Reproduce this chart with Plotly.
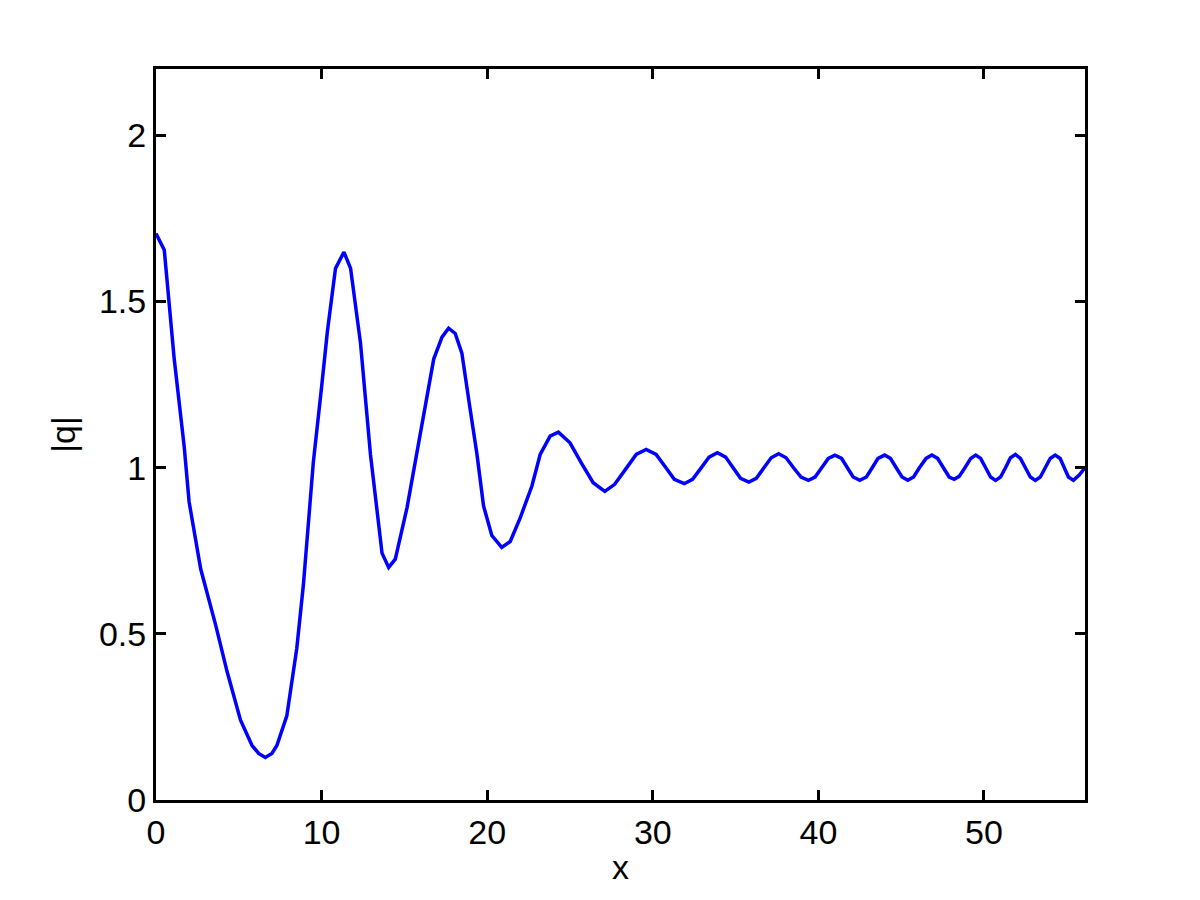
import plotly.graph_objects as go

x_vals = [0.0, 0.5, 1.1, 1.7, 2.0, 2.7, 3.6, 4.3, 5.1, 5.8, 6.2, 6.6, 7.0, 7.3, 7.9,
          8.5, 8.9, 9.5, 10.0, 10.35, 10.84, 11.35, 11.75, 12.35, 12.95, 13.65, 14.05,
          14.45, 15.16, 15.77, 16.37, 16.77, 17.27, 17.67, 18.07, 18.47, 18.98, 19.38,
          19.78, 20.28, 20.88, 21.39, 22.0, 22.7, 23.2, 23.8, 24.3, 25.0, 25.7, 26.4,
          27.1, 27.7, 28.35, 29.0, 29.6, 30.2, 30.75, 31.3, 31.9, 32.4, 32.9, 33.4,
          33.9, 34.4, 34.85, 35.3, 35.8, 36.25, 36.7, 37.15, 37.6, 38.05, 38.5, 38.95,
          39.4, 39.8, 40.2, 40.6, 41.0, 41.4, 41.75, 42.1, 42.5, 42.9, 43.25, 43.6,
          44.0, 44.35, 44.7, 45.05, 45.4, 45.75, 46.1, 46.5, 46.85, 47.2, 47.55, 47.9,
          48.2, 48.5, 48.85, 49.2, 49.5, 49.8, 50.1, 50.4, 50.7, 51.0, 51.3, 51.6,
          51.9, 52.2, 52.5, 52.8, 53.1, 53.4, 53.7, 54.0, 54.3, 54.6, 54.85, 55.1,
          55.4, 55.75, 56.1]
q_vals = [1.705, 1.655, 1.327, 1.065, 0.897, 0.695, 0.527, 0.385, 0.241, 0.164, 0.14,
          0.128, 0.14, 0.164, 0.253, 0.456, 0.647, 1.016, 1.243, 1.41, 1.60, 1.649,
          1.60, 1.375, 1.04, 0.743, 0.70, 0.725, 0.88, 1.052, 1.22, 1.327, 1.393, 1.42,
          1.404, 1.345, 1.173, 1.041, 0.885, 0.796, 0.760, 0.778, 0.85, 0.945, 1.04,
          1.095, 1.107, 1.075, 1.013, 0.955, 0.929, 0.95, 0.995, 1.04, 1.055, 1.04,
          1.003, 0.965, 0.952, 0.965, 0.998, 1.032, 1.045, 1.032, 1.0, 0.968, 0.957,
          0.968, 0.999, 1.03, 1.042, 1.03, 1.0, 0.972, 0.962, 0.972, 1.0, 1.028, 1.038,
          1.028, 1.0, 0.972, 0.962, 0.972, 1.0, 1.028, 1.038, 1.028, 1.0, 0.972, 0.962,
          0.972, 1.0, 1.028, 1.038, 1.028, 1.0, 0.972, 0.965, 0.974, 1.0, 1.028, 1.038,
          1.028, 1.0, 0.972, 0.962, 0.972, 1.0, 1.03, 1.04, 1.028, 1.0, 0.972, 0.962,
          0.972, 1.0, 1.028, 1.038, 1.028, 1.0, 0.972, 0.962, 0.978, 1.0]

x_ticks = [0, 10, 20, 30, 40, 50]
y_ticks = [0, 0.5, 1, 1.5, 2]
y_tick_text = ["0", "0.5", "1", "1.5", "2"]

font = dict(family="Liberation Sans, Arial, Helvetica, sans-serif", size=34, color="black")

fig = go.Figure()
fig.add_trace(go.Scatter(x=x_vals, y=q_vals, mode="lines",
                         line=dict(color="rgb(0,0,255)", width=3.5), showlegend=False))

axis_common = dict(showline=True, linecolor="black", linewidth=3, mirror="ticks",
                   ticks="inside", ticklen=10, tickwidth=3, tickcolor="black",
                   showgrid=False, zeroline=False, tickfont=font)

fig.update_xaxes(range=[0, 56.1], tickvals=x_ticks,
                 title=dict(text="x", font=font, standoff=6), **axis_common)
fig.update_yaxes(range=[0, 2.2], tickvals=y_ticks, ticktext=y_tick_text,
                 title=dict(text="|q|", font=font, standoff=14), **axis_common)

fig.update_layout(width=1200, height=900, plot_bgcolor="white", paper_bgcolor="white",
                  margin=dict(l=148, r=123, t=61, b=108), font=font)

fig.write_html("out.html")
